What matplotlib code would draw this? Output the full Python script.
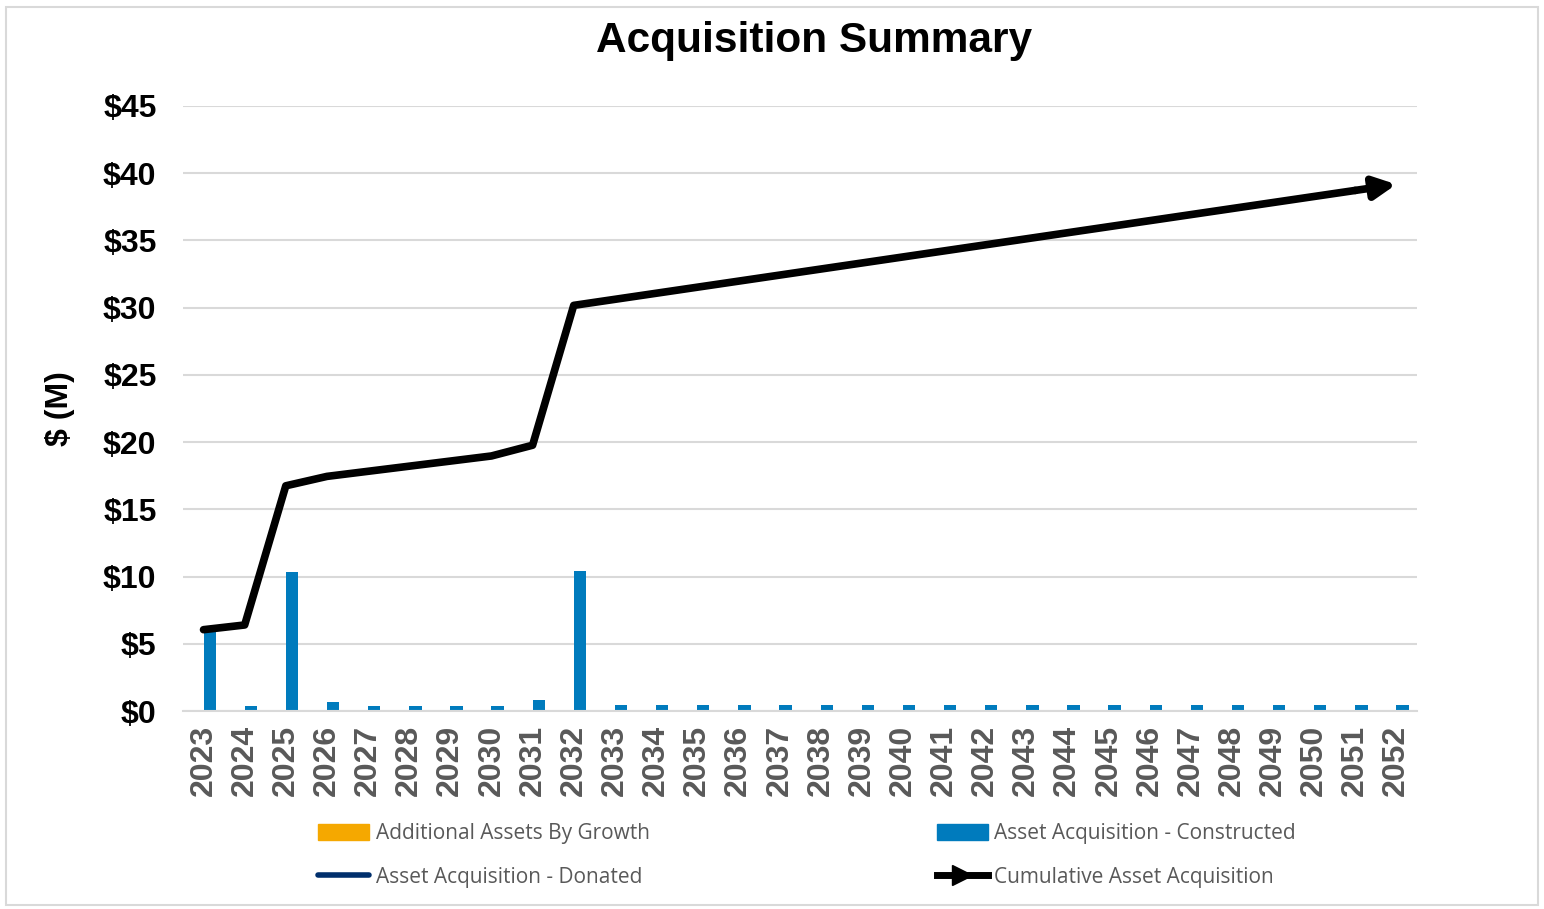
import matplotlib.pyplot as plt
import matplotlib.patches as mpatches
from matplotlib.lines import Line2D
import numpy as np

years = [str(y) for y in range(2023, 2053)]
growth = [0.0] * 30
constructed = [6.05, 0.35, 10.35, 0.7, 0.38, 0.38, 0.38, 0.38, 0.8, 10.4,
               0.45, 0.45, 0.45, 0.45, 0.45, 0.45, 0.45, 0.45, 0.45, 0.45,
               0.45, 0.45, 0.45, 0.45, 0.45, 0.45, 0.45, 0.45, 0.45, 0.45]
cumulative = list(np.cumsum(constructed))
y_ticks = [0, 5, 10, 15, 20, 25, 30, 35, 40, 45]

c_growth = '#f5a800'
c_constr = '#007bbd'
c_donated = '#002f6c'
grey_txt = '#595959'

plt.rcParams['font.family'] = ['Liberation Sans', 'DejaVu Sans']

fig = plt.figure(figsize=(15.44, 9.09), dpi=100)
ax = fig.add_axes([0.1185, 0.2178, 0.7992, 0.6656])

x = np.arange(len(years))
w = 0.3
ax.bar(x - w / 2, growth, w, color=c_growth)
ax.bar(x + w / 2, constructed, w, color=c_constr)

ax.plot(x[:-1], cumulative[:-1], color='black', lw=5.5, solid_capstyle='round',
        solid_joinstyle='round', zorder=5)
ax.annotate('', xy=(x[-1], cumulative[-1]), xytext=(x[-2], cumulative[-2]),
            arrowprops=dict(arrowstyle='-|>,head_length=1.3,head_width=0.65',
                            color='black', lw=5.5, shrinkA=0, shrinkB=0),
            zorder=6)

ax.set_xlim(-0.5, len(years) - 0.5)
ax.set_ylim(0, 45)
ax.set_yticks(y_ticks)
ax.set_yticklabels(['$%d' % v for v in y_ticks], fontsize=23, fontweight='bold')
ax.set_xticks(x)
ax.set_xticklabels(years, rotation=90, fontsize=23, fontweight='bold', color=grey_txt)
ax.tick_params(axis='y', length=0, pad=19)
ax.tick_params(axis='x', length=0, pad=10)
ax.yaxis.grid(True, color='#d9d9d9', lw=1.5)
ax.set_axisbelow(True)
for s in ['top', 'right', 'left']:
    ax.spines[s].set_visible(False)
ax.spines['bottom'].set_color('#d9d9d9')
ax.spines['bottom'].set_linewidth(1.5)

ax.set_ylabel('$ (M)', fontsize=23, fontweight='bold', labelpad=20)
fig.text(0.527, 0.955, 'Acquisition Summary', ha='center', va='center',
         fontsize=30.5, fontweight='bold')

h1 = [mpatches.Patch(color=c_growth), Line2D([], [], color=c_donated, lw=4,
                                              solid_capstyle='round')]
h2 = [mpatches.Patch(color=c_constr),
      Line2D([], [], color='black', lw=5, marker='>', markersize=14,
             markevery=[1])]
for hs, labs, xpos in [(h1, ['Additional Assets By Growth', 'Asset Acquisition - Donated'], 0.1995),
                       (h2, ['Asset Acquisition - Constructed', 'Cumulative Asset Acquisition'], 0.6),
                       ]:
    leg = fig.legend(hs, labs, loc='upper left', bbox_to_anchor=(xpos, 0.106),
                     frameon=False, handlelength=2.45, handleheight=0.8,
                     handletextpad=0.3, labelspacing=1.1, borderpad=0,
                     prop={'family': 'Open Sans', 'size': 15})
    for t in leg.get_texts():
        t.set_color(grey_txt)

fig.add_artist(mpatches.Rectangle((0.004, 0.004), 0.992, 0.988, transform=fig.transFigure,
                                  fill=False, edgecolor='#d9d9d9', lw=1.5))

fig.savefig('out.png', dpi=100)
